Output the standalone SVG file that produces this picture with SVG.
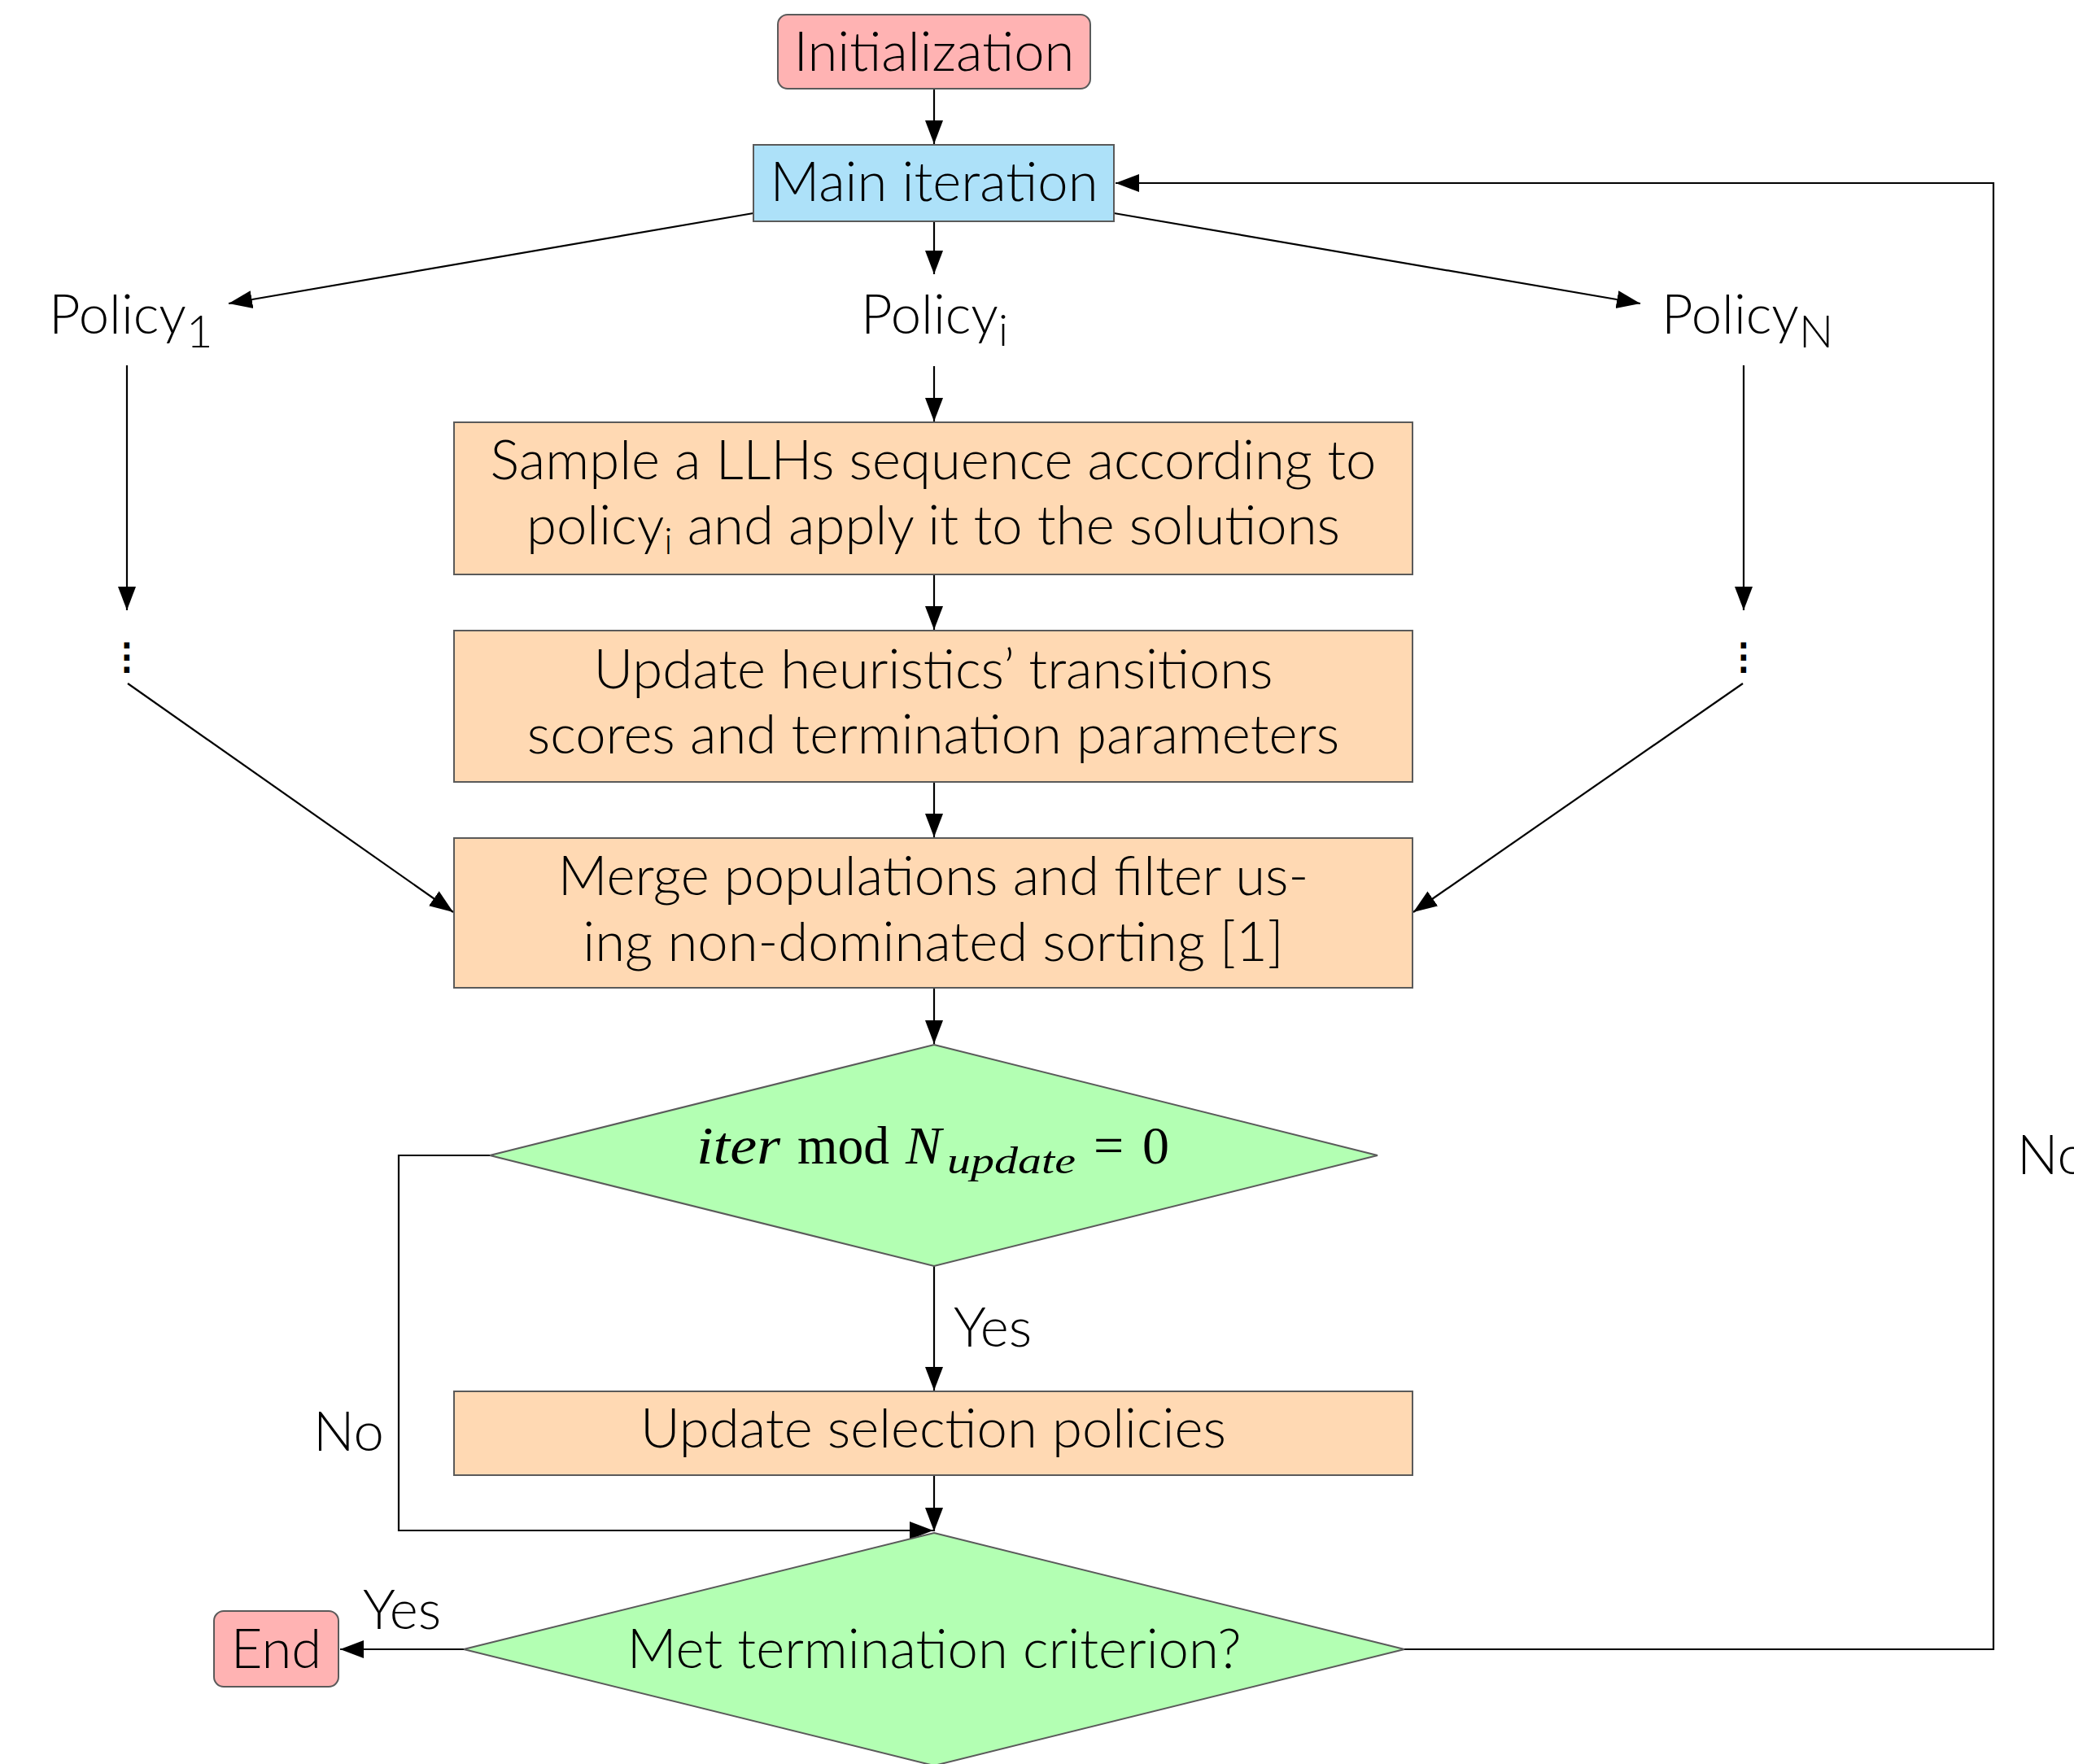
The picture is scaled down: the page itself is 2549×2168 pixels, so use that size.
<svg xmlns="http://www.w3.org/2000/svg" width="2549" height="2168" viewBox="0 0 2549 2168">
<defs>
<style>
.t{font-family:"Lato Light",Lato,"Open Sans","Liberation Sans",sans-serif;font-weight:300;font-size:67px;fill:#000}
.m{font-family:"Liberation Serif",serif;font-size:66px;fill:#000}
.ms{font-family:"Liberation Serif",serif;font-size:46px;font-style:italic;fill:#000}
.dots{font-family:"DejaVu Sans",sans-serif;font-size:44px;fill:#000;stroke:#000;stroke-width:2}
.box{stroke:#5a5a5a;stroke-width:2}
.term{fill:#FFB3B3}
.main{fill:#ADE1F9}
.proc{fill:#FFD9B3}
.dec{fill:#B3FFB3}
.c{fill:none;stroke:#000;stroke-width:2.2;marker-end:url(#ah)}
</style>
<marker id="ah" markerUnits="userSpaceOnUse" markerWidth="30" markerHeight="24" refX="29" refY="11" orient="auto" viewBox="0 0 30 22">
<path d="M0,0 L29,11 L0,22 z" fill="#000"/>
</marker>
</defs>
<rect width="2549" height="2168" fill="#fff"/>

<g id="connectors">
<path class="c" d="M1148,109 L1148,177"/>
<path class="c" d="M926,262 L281,373"/>
<path class="c" d="M1148,272 L1148,337"/>
<path class="c" d="M1369,262 L2016,373"/>
<path class="c" d="M156,449 L156,750"/>
<path class="c" d="M2143,449 L2143,750"/>
<path class="c" d="M1148,450 L1148,518"/>
<path class="c" d="M1148,706 L1148,774"/>
<path class="c" d="M1148,961 L1148,1029"/>
<path class="c" d="M157,840 L557,1121"/>
<path class="c" d="M2142,840 L1737,1121"/>
<path class="c" d="M1148,1214 L1148,1283"/>
<path class="c" d="M1148,1556 L1148,1709"/>
<path class="c" d="M1148,1813 L1148,1882"/>
<path class="c" d="M602,1420 L490,1420 L490,1881 L1147,1881"/>
<path class="c" d="M570,2027 L418,2027"/>
<path class="c" d="M1726,2027 L2450,2027 L2450,225 L1371,225"/>
<text class="t" x="1172" y="1655">Yes</text>
<text class="t" x="385" y="1783">No</text>
<text class="t" x="446" y="2002">Yes</text>
<text class="t" x="2479" y="1443">No</text>
</g>

<g id="init">
<rect class="box term" x="956" y="18" width="384" height="91" rx="12"/>
<text class="t" x="1148" y="87" text-anchor="middle">Initialization</text>
</g>

<g id="main-iteration">
<rect class="box main" x="926" y="178" width="443" height="94"/>
<text class="t" x="1148" y="247" text-anchor="middle">Main iteration</text>
</g>

<g id="policy-1">
<text class="t" x="60" y="410">Policy<tspan font-size="56" dy="17">1</tspan></text>
</g>
<g id="policy-i">
<text class="t" x="1058" y="410">Policy<tspan font-size="54" dy="15">i</tspan></text>
</g>
<g id="policy-n">
<text class="t" x="2042" y="410">Policy<tspan font-size="56" dy="17">N</tspan></text>
</g>

<g id="dots-1">
<text class="dots" x="156" y="822" text-anchor="middle">⋮</text>
</g>
<g id="dots-n">
<text class="dots" x="2143" y="822" text-anchor="middle">⋮</text>
</g>

<g id="sample">
<rect class="box proc" x="558" y="519" width="1178" height="187"/>
<text class="t" x="1147" y="589" text-anchor="middle">Sample a LLHs sequence according to</text>
<text class="t" x="1147" y="669" text-anchor="middle">policy<tspan font-size="46" dy="12">i</tspan><tspan dy="-12"> and apply it to the solutions</tspan></text>
</g>

<g id="update-heuristics">
<rect class="box proc" x="558" y="775" width="1178" height="186"/>
<text class="t" x="1147" y="846" text-anchor="middle">Update heuristics’ transitions</text>
<text class="t" x="1147" y="926" text-anchor="middle">scores and termination parameters</text>
</g>

<g id="merge">
<rect class="box proc" x="558" y="1030" width="1178" height="184"/>
<text class="t" x="1147" y="1100" text-anchor="middle">Merge populations and filter us-</text>
<text class="t" x="1147" y="1181" text-anchor="middle">ing non-dominated sorting [1]</text>
</g>

<g id="decision-update">
<polygon class="box dec" points="1148,1284 1693,1420 1148,1556 602,1420"/>
<text class="m" y="1430"><tspan x="856" font-style="italic" textLength="103" lengthAdjust="spacingAndGlyphs">iter</tspan><tspan x="980" textLength="113" lengthAdjust="spacingAndGlyphs">mod</tspan><tspan x="1113" font-style="italic">N</tspan></text>
<text class="ms" x="1164" y="1442" textLength="158" lengthAdjust="spacingAndGlyphs">update</text>
<text class="m" y="1430"><tspan x="1344">=</tspan><tspan x="1404">0</tspan></text>
</g>

<g id="update-selection">
<rect class="box proc" x="558" y="1710" width="1178" height="103"/>
<text class="t" x="1147" y="1779" text-anchor="middle">Update selection policies</text>
</g>

<g id="decision-termination">
<polygon class="box dec" points="1148,1884 1726,2027 1148,2170 570,2027"/>
<text class="t" x="1148" y="2050" text-anchor="middle">Met termination criterion?</text>
</g>

<g id="end">
<rect class="box term" x="263" y="1980" width="153" height="93" rx="12"/>
<text class="t" x="339.5" y="2050" text-anchor="middle">End</text>
</g>
</svg>
